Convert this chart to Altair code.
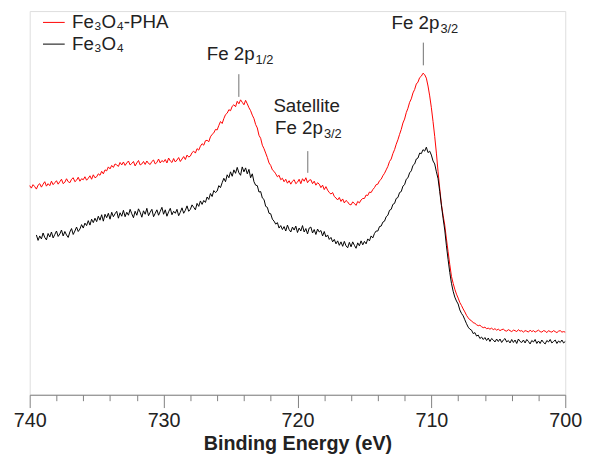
import altair as alt
import pandas as pd

# ---- data (binding energy in eV, intensity in arbitrary units) ----
step = 0.125
red_start = 740.0
red_counts = [
    212, 209.5, 213, 211, 208.5, 212.5, 214, 210.5,
    213.5, 216, 211.5, 214, 212, 216.5, 213, 215,
    217, 213.5, 216, 218.5, 214, 215.5, 219, 216,
    215, 218.5, 220, 216, 217.5, 220.5, 216.5, 219,
    218, 221, 217.5, 219.5, 222, 218.5, 223, 220,
    221, 224, 222.5, 226.5, 224, 228, 227, 231,
    229, 232.5, 230.5, 234, 233, 231.5, 235.5, 233,
    236, 232.5, 235, 237, 233, 234.5, 236.5, 232,
    235, 237.5, 233, 234, 236.5, 233.5, 237, 234.5,
    233.5, 236.5, 238, 234, 235.5, 239, 235, 237.5,
    236, 238.5, 235, 240, 237, 235.5, 239.5, 236,
    238, 240.5, 236.5, 239, 241.5, 238.5, 243, 241,
    242, 245.5, 247, 245, 249.5, 248, 252, 254.5,
    253, 257.5, 258, 256.5, 261.5, 264, 265.5, 269,
    268.5, 273, 277, 275, 280, 284, 285.5, 289,
    288, 292.5, 294, 292, 297.5, 295, 299, 296.5,
    294, 298.5, 295, 291, 288, 283.5, 280, 274,
    270.5, 263, 260, 253, 249.5, 245, 240.5, 235,
    232.5, 228, 226.5, 224, 221, 222.5, 218, 219.5,
    216, 218.5, 214.5, 217, 213.5, 216.5, 218, 214,
    215.5, 218.5, 214, 219, 216.5, 220, 215, 217.5,
    218, 214, 216.5, 212.5, 215, 213.5, 210, 212.5,
    208, 211, 207.5, 205, 203.5, 205, 201, 199.5,
    197.5, 200, 196, 198.5, 194.5, 197, 195.5, 193,
    192.5, 195.5, 194, 192, 196, 194.5, 197.5, 199,
    199, 202.5, 202, 205.5, 205, 208, 210, 213,
    213.5, 217, 218.5, 222, 224.5, 228, 231.5, 236.5,
    239, 244.5, 248.5, 254, 258.5, 264, 269, 275.5,
    279.5, 286, 290.5, 296.5, 300, 306, 309.5, 315,
    317, 321.5, 323, 326, 324.5, 321, 313, 303,
    291, 277, 262, 245, 226, 209, 193, 182,
    172, 158, 145, 132, 120, 113, 107, 102,
    98, 93.5, 90.5, 87, 84, 80.5, 78, 76,
    75, 73, 72.5, 71, 70, 70.5, 69, 68,
    68.5, 67, 67.5, 66.5, 67.5, 66, 67, 65.5,
    66.5, 65, 66, 66.5, 65, 64.5, 66, 65,
    64, 65.5, 65, 64, 66, 64.5, 65, 63.5,
    65, 64.5, 63.5, 65.5, 64, 65, 63.5, 64.5,
    65.5, 64, 63.5, 65, 64.5, 63, 65, 64,
    63.5, 65, 64, 63, 64.5, 65, 63.5, 64,
    63.5,
]
black_start = 739.5
black_counts = [
    162, 156.5, 161, 158,
    164, 159.5, 157, 163.5, 160, 165, 159, 162.5,
    166, 160.5, 163, 167, 161, 165.5, 162, 159.5,
    165, 168.5, 162.5, 166, 170, 165.5, 168, 172.5,
    169, 174, 171.5, 176.5, 172, 178, 174.5, 179,
    175.5, 181, 177, 182.5, 176, 183, 179.5, 184,
    178, 185, 180.5, 183.5, 186, 179, 184.5, 181,
    187, 180.5, 185, 182, 188, 183.5, 179.5, 186,
    182, 188.5, 185, 180, 186.5, 183, 189, 181.5,
    185, 188, 180.5, 184, 187.5, 182, 186, 190,
    183, 187.5, 181, 185.5, 189, 182.5, 186, 184,
    188, 181.5, 185, 189.5, 184, 187, 191.5, 186,
    188, 192.5, 190, 187.5, 194, 191, 196.5, 193,
    197, 195, 200.5, 198, 204, 201, 207, 205,
    206.5, 212, 210, 215, 219.5, 216, 223, 220,
    226, 221.5, 228, 224.5, 230.5, 225, 222.5, 231,
    226, 230, 224, 228.5, 220, 224, 216, 212.5,
    212, 205.5, 206, 199.5, 198, 191, 190, 184,
    183.5, 178, 176, 173, 174.5, 169, 171.5, 167.5,
    170.5, 166, 172, 167.5, 165, 170, 167, 171,
    164.5, 169, 166, 171.5, 165, 168.5, 163, 169,
    170, 164, 167.5, 162.5, 168, 165, 166.5, 161,
    165.5, 160, 162, 157.5, 159.5, 155, 157.5, 153,
    156, 151.5, 155, 150.5, 155.5, 151, 149, 154.5,
    150, 155, 151.5, 148.5, 154, 151, 156, 152,
    155.5, 153, 158, 156, 161, 159, 163.5, 166,
    166, 170.5, 171, 175, 176, 180.5, 182, 187,
    188, 193, 194, 199, 200, 205, 206, 211.5,
    213, 218.5, 220, 225, 227, 232.5, 234, 239,
    240, 245, 244.5, 248.5, 247, 251, 245.5, 247,
    243, 237, 234, 226, 219, 206, 192, 179,
    167, 151, 137, 124, 113, 105, 99, 95,
    92, 86, 82.5, 80, 76, 72, 68.5, 66.5,
    65.5, 62, 63, 59.5, 60.5, 57, 58.5, 56,
    58, 55, 57.5, 54, 57, 55.5, 53.5, 56.5,
    54, 56.5, 53, 55.5, 57, 53.5, 55, 52.5,
    56, 53, 55.5, 52, 56.5, 54, 53, 55.5,
    52.5, 56, 54, 51.5, 55, 53.5, 56, 52,
    54.5, 52, 55.5, 53, 51.5, 55, 53.5, 56,
    52.5, 54, 55.5, 52, 54.5, 53, 55.5, 52.5,
    54,
]
series_names = ["Fe\u2083O\u2084-PHA", "Fe\u2083O\u2084"]
series_colors = ["#ff0000", "#000000"]

tick_values = list(range(700, 741, 2))

# annotation texts
ann_main_text = ["Fe 2p", "Fe 2p", "Fe 2p"]
ann_main_E = [723.2, 718.1, 709.4]
ann_main_v = [339, 264, 371]
ann_sub_text = ["1/2", "3/2", "3/2"]
ann_left_text = ["Satellite"]
ann_left_E = [721.8]
ann_left_v = [287]
lead_E = [724.38, 719.23, 710.6]
lead_v1 = [325, 247, 357]
lead_v2 = [302, 225, 334]

# ---- tables ----
rows = []
for i, c in enumerate(red_counts):
    rows.append({"E": red_start - step * i, "I": c, "s": series_names[0]})
for i, c in enumerate(black_counts):
    rows.append({"E": black_start - step * i, "I": c, "s": series_names[1]})
spec_df = pd.DataFrame(rows)

main_df = pd.DataFrame({"E": ann_main_E, "v": ann_main_v, "t": ann_main_text})
sub_df = pd.DataFrame({"E": ann_main_E, "v": ann_main_v, "t": ann_sub_text})
left_df = pd.DataFrame({"E": ann_left_E, "v": ann_left_v, "t": ann_left_text})
lead_df = pd.DataFrame({"E": lead_E, "v1": lead_v1, "v2": lead_v2})

FONT = "Liberation Sans"

xscale = alt.Scale(domain=[700, 740], reverse=True, nice=False, zero=False)
yscale = alt.Scale(domain=[0, 389], nice=False, zero=False)

xaxis = alt.Axis(
    values=tick_values,
    tickCount=len(tick_values),
    labelExpr="datum.value % 10 === 0 ? datum.label : ''",
    tickSize={"condition": {"test": "datum.value % 10 === 0", "value": 13}, "value": 6},
    tickColor="#808080",
    domainColor="#808080",
    labelFont=FONT,
    labelFontSize=20,
    labelColor="#222222",
    labelPadding=3,
    labelFlush=False,
    labelOverlap=False,
    grid=False,
    title="Binding Energy (eV)",
    titleFont=FONT,
    titleFontSize=20,
    titleFontWeight="bold",
    titleColor="#222222",
    titlePadding=4,
)

lines = alt.Chart(spec_df).mark_line(strokeWidth=1).encode(
    x=alt.X("E:Q", scale=xscale, axis=xaxis),
    y=alt.Y("I:Q", scale=yscale, axis=None),
    color=alt.Color(
        "s:N",
        scale=alt.Scale(domain=series_names, range=series_colors),
        legend=alt.Legend(
            title=None,
            orient="none",
            legendX=13,
            legendY=0,
            symbolType="stroke",
            symbolSize=484,
            symbolStrokeWidth=1,
            labelFont=FONT,
            labelFontSize=19,
            labelColor="#222222",
            labelOffset=7,
            rowPadding=-3,
            padding=0,
        ),
    ),
)

leads = alt.Chart(lead_df).mark_rule(color="#707070", strokeWidth=1).encode(
    x="E:Q", y="v1:Q", y2="v2:Q"
)

main_txt = alt.Chart(main_df).mark_text(
    align="right", baseline="alphabetic", font=FONT, fontSize=19, color="#222222"
).encode(x="E:Q", y="v:Q", text="t:N")

sub_txt = alt.Chart(sub_df).mark_text(
    align="left", baseline="alphabetic", font=FONT, fontSize=13, color="#222222", dx=1, dy=4
).encode(x="E:Q", y="v:Q", text="t:N")

left_txt = alt.Chart(left_df).mark_text(
    align="left", baseline="alphabetic", font=FONT, fontSize=19, color="#222222"
).encode(x="E:Q", y="v:Q", text="t:N")

chart = alt.layer(lines, leads, main_txt, sub_txt, left_txt).properties(
    width=543,
    height=389,
    autosize=alt.AutoSizeParams(type="none"),
    padding={"left": 22, "top": 0, "right": 19, "bottom": 60},
).configure_view(stroke=None).configure(background="white")

chart.save("out.html", embed_options={"renderer": "svg", "actions": False})
